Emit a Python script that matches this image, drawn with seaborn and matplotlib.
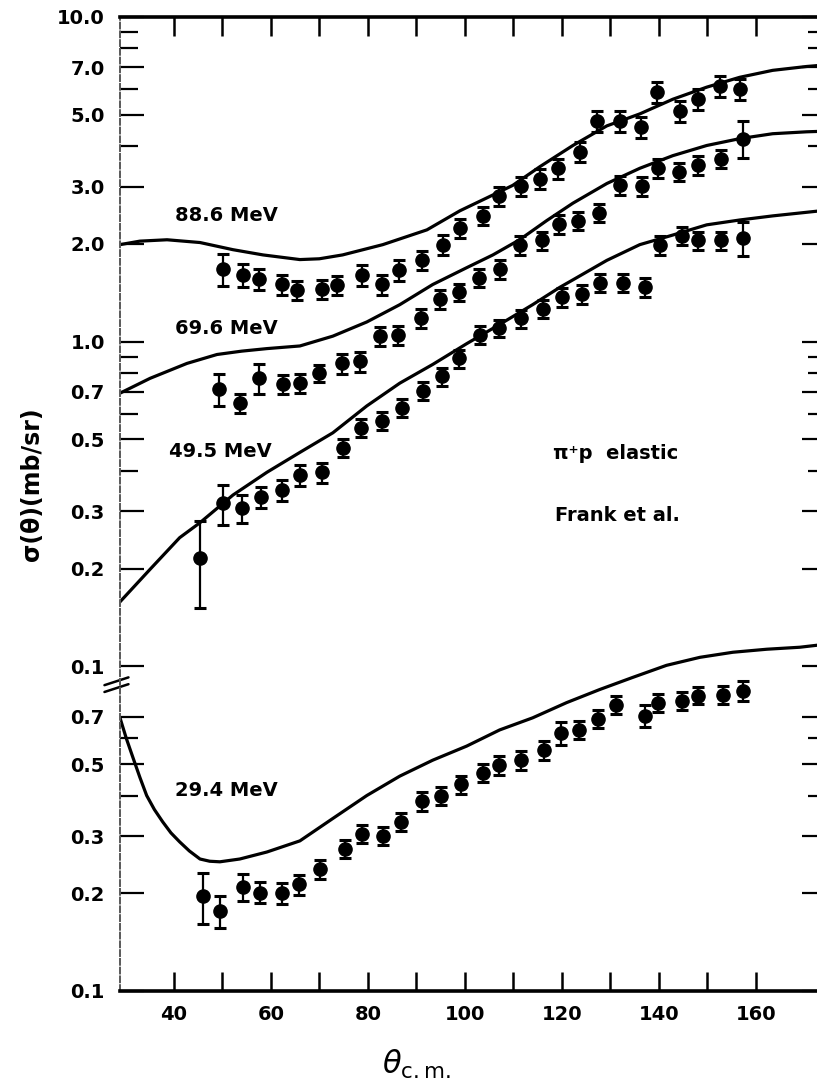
import numpy as np
import pandas as pd
import seaborn as sns
import matplotlib
matplotlib.use("Agg")
import matplotlib.pyplot as plt
from matplotlib.ticker import NullFormatter

# measured points (theta c.m. in degrees, cross section in mb/sr)
theta_88 = [50.1, 54.2, 57.5, 62.3, 65.4, 70.5, 73.6, 78.8, 82.9, 86.4, 91.1, 95.5, 99.0, 103.7,
            107.0, 111.5, 115.5, 119.2, 123.7, 127.2, 132.0, 136.3, 139.6, 144.3, 148.0, 152.6, 156.7]
sig_88 = [1.67, 1.60, 1.56, 1.50, 1.44, 1.45, 1.49, 1.60, 1.50, 1.66, 1.78, 1.99, 2.24, 2.44,
          2.81, 3.01, 3.18, 3.42, 3.85, 4.79, 4.79, 4.59, 5.87, 5.13, 5.58, 6.12, 5.99]
err_88 = [0.19, 0.13, 0.12, 0.11, 0.10, 0.10, 0.10, 0.12, 0.11, 0.12, 0.12, 0.14, 0.15, 0.16,
          0.19, 0.21, 0.22, 0.24, 0.27, 0.36, 0.36, 0.34, 0.45, 0.38, 0.42, 0.46, 0.45]

theta_69 = [49.3, 53.6, 57.5, 62.5, 66.0, 69.9, 74.6, 78.4, 82.5, 86.2, 90.9, 94.8, 98.8, 102.9,
            107.2, 111.3, 115.9, 119.4, 123.3, 127.6, 132.0, 136.5, 139.8, 144.1, 148.0, 152.8, 157.3]
sig_69 = [0.714, 0.647, 0.771, 0.740, 0.745, 0.799, 0.857, 0.869, 1.04, 1.05, 1.18, 1.35, 1.42, 1.57,
          1.67, 1.98, 2.05, 2.30, 2.36, 2.49, 3.03, 3.01, 3.42, 3.34, 3.49, 3.66, 4.22]
err_69 = [0.08, 0.045, 0.08, 0.05, 0.05, 0.05, 0.06, 0.06, 0.07, 0.07, 0.08, 0.09, 0.09, 0.10,
          0.11, 0.13, 0.13, 0.15, 0.15, 0.16, 0.20, 0.20, 0.22, 0.22, 0.23, 0.24, 0.55]

theta_49 = [45.4, 50.1, 54.0, 57.9, 62.3, 66.0, 70.5, 74.8, 78.6, 82.9, 87.0, 91.3, 95.3, 98.8,
            103.1, 107.0, 111.5, 116.1, 120.0, 124.1, 127.8, 132.6, 137.1, 140.2, 144.7, 148.2, 152.8, 157.3]
sig_49 = [0.216, 0.318, 0.307, 0.332, 0.349, 0.388, 0.396, 0.472, 0.543, 0.570, 0.625, 0.704, 0.782, 0.888,
          1.05, 1.10, 1.18, 1.26, 1.37, 1.40, 1.52, 1.52, 1.47, 1.98, 2.12, 2.05, 2.05, 2.09]
err_49 = [0.065, 0.045, 0.03, 0.025, 0.025, 0.028, 0.028, 0.03, 0.035, 0.037, 0.04, 0.045, 0.05, 0.057,
          0.068, 0.07, 0.075, 0.08, 0.09, 0.09, 0.10, 0.10, 0.10, 0.13, 0.14, 0.13, 0.13, 0.25]

theta_29 = [46.0, 49.5, 54.2, 57.7, 62.3, 65.8, 70.1, 75.3, 78.8, 83.1, 86.8, 91.1, 95.1, 99.2,
            103.7, 107.0, 111.5, 116.3, 119.8, 123.5, 127.4, 131.1, 137.1, 139.8, 144.9, 148.2, 153.2, 157.3]
sig_29 = [0.196, 0.176, 0.209, 0.201, 0.200, 0.213, 0.238, 0.274, 0.305, 0.301, 0.332, 0.384, 0.400, 0.433,
          0.469, 0.496, 0.514, 0.552, 0.624, 0.637, 0.689, 0.762, 0.705, 0.773, 0.784, 0.813, 0.818, 0.842]
err_29 = [0.035, 0.02, 0.02, 0.015, 0.015, 0.015, 0.016, 0.018, 0.02, 0.02, 0.022, 0.025, 0.026, 0.028,
          0.03, 0.032, 0.033, 0.036, 0.05, 0.04, 0.044, 0.05, 0.055, 0.05, 0.05, 0.05, 0.05, 0.06]

# theory curves
th_c88 = [28.9, 33.0, 38.6, 45.4, 52.2, 58.4, 66.0, 70.0, 74.8, 83.1, 92.2, 99.0, 104.5, 109.9, 115.5,
          122.3, 129.3, 136.1, 142.9, 149.9, 156.7, 163.5, 170.5, 174.5]
c88 = [1.99, 2.04, 2.06, 2.02, 1.92, 1.85, 1.79, 1.80, 1.85, 1.99, 2.21, 2.53, 2.77, 3.03, 3.46,
       4.02, 4.62, 5.03, 5.58, 6.08, 6.52, 6.85, 7.04, 7.12]

th_c69 = [28.9, 35.1, 42.7, 48.9, 54.0, 59.2, 66.0, 72.8, 79.8, 86.6, 93.4, 100.4, 105.8, 111.3,
          116.9, 122.3, 129.3, 136.1, 142.9, 149.9, 156.7, 163.5, 170.5, 174.5]
c69 = [0.694, 0.771, 0.857, 0.913, 0.935, 0.952, 0.97, 1.04, 1.15, 1.30, 1.50, 1.69, 1.85, 2.06,
       2.36, 2.67, 3.07, 3.42, 3.74, 4.02, 4.22, 4.37, 4.43, 4.45]

th_c49 = [28.9, 35.1, 41.2, 45.4, 52.2, 59.2, 66.0, 72.8, 79.8, 86.6, 93.4, 100.4, 107.2,
          114.0, 119.6, 122.3, 129.3, 136.1, 142.9, 149.9, 156.7, 163.5, 174.5]
c49 = [0.158, 0.199, 0.249, 0.277, 0.337, 0.396, 0.456, 0.524, 0.634, 0.745, 0.851, 0.986, 1.13,
       1.30, 1.47, 1.55, 1.78, 1.99, 2.13, 2.29, 2.37, 2.44, 2.54]

th_c29 = [28.9, 30.2, 31.6, 33.0, 34.4, 36.0, 37.7, 39.4, 41.2, 43.2, 45.4, 47.4, 49.5, 53.6, 59.2, 66.0,
          72.8, 79.8, 86.6, 93.4, 100.4, 107.2, 114.0, 121.0, 127.8, 134.6, 141.6, 148.5, 155.3, 162.3,
          169.1, 174.5]
c29 = [0.694, 0.600, 0.522, 0.455, 0.400, 0.362, 0.332, 0.307, 0.288, 0.270, 0.255, 0.251, 0.250, 0.255,
       0.268, 0.290, 0.340, 0.400, 0.459, 0.514, 0.568, 0.637, 0.694, 0.773, 0.848, 0.924, 1.007, 1.066,
       1.105, 1.129, 1.145, 1.17]

# the 29.4 MeV panel sits one decade lower on the broken axis
lower_shift = 0.1

upper_ticks = [10, 7, 5, 3, 2, 1, 0.7, 0.5, 0.3, 0.2, 0.1]
upper_labels = ["10.0", "7.0", "5.0", "3.0", "2.0", "1.0", "0.7", "0.5", "0.3", "0.2", "0.1"]
lower_ticks = [0.7, 0.5, 0.3, 0.2, 0.1]
lower_labels = ["0.7", "0.5", "0.3", "0.2", "0.1"]
minor_upper = [9, 8, 6, 4, 0.9, 0.8, 0.6, 0.4]
minor_lower = [0.6, 0.4]

sns.set_theme(style="white")
plt.rcParams["font.family"] = ["DejaVu Sans"]
plt.rcParams["text.color"] = "black"
plt.rcParams["axes.labelcolor"] = "black"
plt.rcParams["xtick.color"] = "black"
plt.rcParams["ytick.color"] = "black"

fig = plt.figure(figsize=(8.17, 10.90), dpi=100)
ax = fig.add_axes([120 / 817, 1 - 991 / 1090, 706 / 817, 974 / 1090])

curves = [(th_c88, c88, 1.0), (th_c69, c69, 1.0), (th_c49, c49, 1.0), (th_c29, c29, lower_shift)]
for th, cv, k in curves:
    sns.lineplot(x=th, y=np.array(cv) * k, ax=ax, color="black", lw=2.3, sort=False, estimator=None)

points = [(theta_88, sig_88, err_88, 1.0), (theta_69, sig_69, err_69, 1.0),
          (theta_49, sig_49, err_49, 1.0), (theta_29, sig_29, err_29, lower_shift)]
for th, s, e, k in points:
    ax.errorbar(th, np.array(s) * k, yerr=np.array(e) * k, fmt="o", color="black", ms=9.5,
                capsize=4, elinewidth=1.6, capthick=2.2, zorder=3)

ax.set_yscale("log")
ax.set_xlim(28.9, 174.5)
ax.set_ylim(0.01, 10)

ax.set_yticks(upper_ticks + [v * lower_shift for v in lower_ticks])
ax.set_yticklabels(upper_labels + lower_labels)
ax.set_yticks(minor_upper + [v * lower_shift for v in minor_lower], minor=True)
ax.yaxis.set_minor_formatter(NullFormatter())

ax.set_xticks([40, 60, 80, 100, 120, 140, 160])
ax.set_xticks([50, 70, 90, 110, 130, 150], minor=True)

ax.tick_params(axis="y", which="both", direction="in", left=True, right=True,
               length=17, width=1.6, pad=11, labelsize=14, color="black", labelcolor="black")
ax.tick_params(axis="y", which="minor", length=13)
ax.tick_params(axis="x", which="both", direction="in", top=True, bottom=True,
               length=14, width=1.8, pad=10, labelsize=14, color="black", labelcolor="black")
for lbl in ax.get_xticklabels() + ax.get_yticklabels():
    lbl.set_fontweight("bold")

for side in ["top", "bottom"]:
    ax.spines[side].set_linewidth(2.6)
    ax.spines[side].set_color("black")
ax.spines["left"].set_linewidth(1.4)
ax.spines["left"].set_color("0.35")
ax.spines["left"].set_linestyle((0, (3, 1.5)))
ax.spines["right"].set_visible(False)

# axis break mark
for yy in [0.318, 0.311]:
    ax.plot([-0.022, 0.012], [yy - 0.004, yy + 0.004], transform=ax.transAxes,
            color="black", lw=1.8, clip_on=False)

ax.set_xlabel(r"$\theta_{\rm c.m.}$", fontsize=22, color="black")
ax.xaxis.set_label_coords(0.42, -0.058)
ax.set_ylabel("σ(θ)(mb/sr)", fontsize=17, fontweight="bold", color="black")
ax.yaxis.set_label_coords(-0.108, 0.52)

tkw = dict(transform=ax.transAxes, va="center", ha="left", fontsize=14,
           fontweight="bold", color="black")
ax.text(0.078, 0.796, "88.6 MeV", **tkw)
ax.text(0.078, 0.680, "69.6 MeV", **tkw)
ax.text(0.069, 0.554, "49.5 MeV", **tkw)
ax.text(0.078, 0.206, "29.4 MeV", **tkw)
ax.text(0.613, 0.552, "π⁺p  elastic", **tkw)
ax.text(0.616, 0.488, "Frank et al.", **tkw)

fig.savefig("out.png", dpi=100)
